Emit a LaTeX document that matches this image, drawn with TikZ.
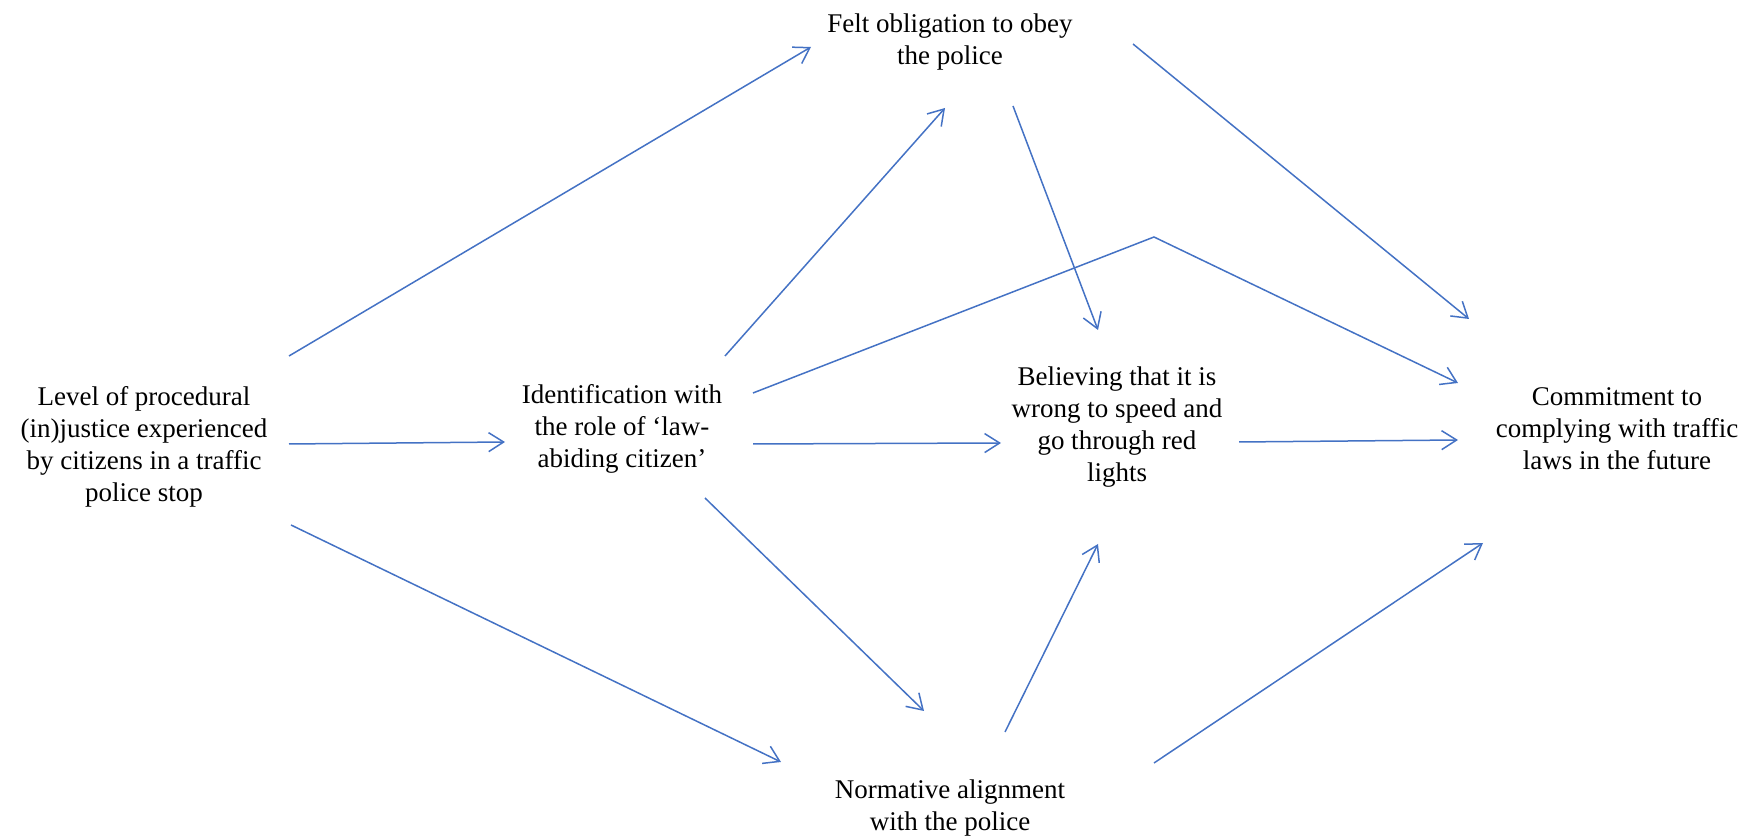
\documentclass[tikz,border=0pt]{standalone}
\usepackage{fontspec}
\setmainfont{Liberation Serif}
\usetikzlibrary{arrows.meta}
\definecolor{arr}{HTML}{4472C4}
\tikzset{
  lbl/.style={align=center, font=\fontsize{13.5}{16}\selectfont, inner sep=0pt},
  link/.style={draw=arr, line width=0.75pt, -{Straight Barb[length=7.5pt,width=9.5pt,line width=0.75pt]}}
}
\begin{document}
\begin{tikzpicture}[x=0.5pt,y=-0.5pt]
\useasboundingbox (0,0) rectangle (1742,838);
% nodes
\node[lbl] (lvl) at (144,447) {Level of procedural\\(in)justice experienced\\by citizens in a traffic\\police stop};
\node[lbl] (idn) at (622,429) {Identification with\\the role of ‘law-\\abiding citizen’};
\node[lbl] (felt) at (950,42) {Felt obligation to obey\\the police};
\node[lbl] (bel) at (1117,427) {Believing that it is\\wrong to speed and\\go through red\\lights};
\node[lbl] (com) at (1617,429) {Commitment to\\complying with traffic\\laws in the future};
\node[lbl] (nor) at (950,808) {Normative alignment\\with the police};
% connector ends
\coordinate (lvlA) at (289,356);
\coordinate (lvlB) at (289,444);
\coordinate (lvlC) at (291,525);
\coordinate (idnA) at (725,356);
\coordinate (idnB) at (753,444);
\coordinate (idnC) at (705,498);
\coordinate (idnD) at (753,393);
\coordinate (feltIn1) at (811,47);
\coordinate (feltIn2) at (945,108);
\coordinate (feltA) at (1013,106);
\coordinate (feltB) at (1133,44);
\coordinate (idnIn) at (505,442);
\coordinate (belIn1) at (1001,443);
\coordinate (belIn2) at (1098,330);
\coordinate (belIn3) at (1098,544);
\coordinate (belA) at (1239,442);
\coordinate (norIn1) at (781,762);
\coordinate (norIn2) at (924,711);
\coordinate (norA) at (1005,732);
\coordinate (norB) at (1154,763);
\coordinate (bend) at (1154,237);
\coordinate (comIn1) at (1469,319);
\coordinate (comIn2) at (1458,383);
\coordinate (comIn3) at (1458,440);
\coordinate (comIn4) at (1483,543);
% connectors
\draw[link] (lvlA) -- (feltIn1);
\draw[link] (lvlB) -- (idnIn);
\draw[link] (lvlC) -- (norIn1);
\draw[link] (idnA) -- (feltIn2);
\draw[link] (idnB) -- (belIn1);
\draw[link] (idnC) -- (norIn2);
\draw[link] (idnD) -- (bend) -- (comIn2);
\draw[link] (feltA) -- (belIn2);
\draw[link] (feltB) -- (comIn1);
\draw[link] (belA) -- (comIn3);
\draw[link] (norA) -- (belIn3);
\draw[link] (norB) -- (comIn4);
\end{tikzpicture}
\end{document}
